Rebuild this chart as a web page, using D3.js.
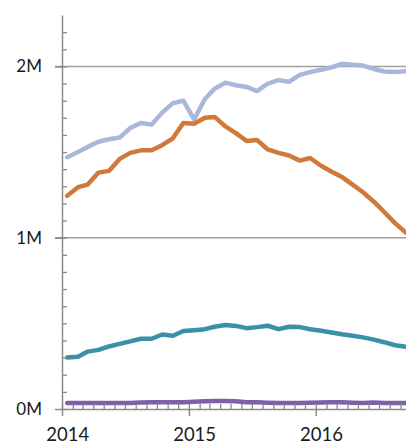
<!DOCTYPE html>
<html>
<head>
<meta charset="utf-8">
<script src="https://cdn.jsdelivr.net/npm/d3@7"></script>
<style>
  body { margin: 0; background: #fff; }
  svg { display: block; font-family: Lato, "Open Sans", sans-serif; }
</style>
</head>
<body>
<div id="chart"></div>
<script>
// monthly series, Jan 2014 - Sep 2016 (values in millions)
const months = ["2014-01","2014-02","2014-03","2014-04","2014-05","2014-06","2014-07","2014-08","2014-09","2014-10","2014-11","2014-12",
                "2015-01","2015-02","2015-03","2015-04","2015-05","2015-06","2015-07","2015-08","2015-09","2015-10","2015-11","2015-12",
                "2016-01","2016-02","2016-03","2016-04","2016-05","2016-06","2016-07","2016-08","2016-09"];

const blue = [1.47,1.50,1.53,1.56,1.575,1.585,1.64,1.67,1.66,1.73,1.785,1.80,
              1.69,1.81,1.87,1.905,1.89,1.88,1.856,1.90,1.92,1.91,1.95,1.967,
              1.98,1.995,2.015,2.01,2.005,1.985,1.97,1.967,1.972];
const orange = [1.245,1.295,1.31,1.38,1.39,1.46,1.495,1.51,1.51,1.54,1.58,1.67,
                1.665,1.70,1.705,1.65,1.61,1.565,1.57,1.515,1.495,1.48,1.45,1.465,
                1.42,1.385,1.355,1.31,1.265,1.21,1.15,1.085,1.03];
const teal = [0.30,0.305,0.335,0.345,0.365,0.38,0.395,0.41,0.41,0.435,0.428,0.455,
              0.46,0.466,0.48,0.49,0.485,0.472,0.478,0.486,0.466,0.48,0.478,0.466,
              0.457,0.447,0.436,0.428,0.418,0.405,0.39,0.372,0.363];
const purple = [0.035,0.035,0.035,0.035,0.035,0.035,0.035,0.038,0.04,0.04,0.04,0.04,
                0.042,0.045,0.047,0.047,0.045,0.04,0.04,0.037,0.035,0.035,0.035,0.037,
                0.038,0.04,0.04,0.037,0.035,0.038,0.035,0.035,0.035];

const seriesNames = ["blue", "orange", "teal", "purple"];
const seriesValues = [blue, orange, teal, purple];
const colors = ["#a7b8da", "#d0793a", "#3a90a6", "#7d60a8"];
const yTickValues = [0, 1, 2];
const yearTicks = ["2014", "2015", "2016"];

const width = 406, height = 444;
const margin = { top: 15, left: 62 };

const svg = d3.select("#chart").append("svg")
    .attr("width", width)
    .attr("height", height);

const parse = d3.timeParse("%Y-%m");
const dates = months.map(m => d3.timeDay.offset(parse(m), 15)); // mid month

// x: 127px per year starting at the axis
let x = d3.scaleTime()
    .domain([new Date(2014, 0, 1), new Date(2017, 0, 1)])
    .range([62, 62 + 3 * 127]);

let y = d3.scaleLinear()
    .domain([0, 2.3])
    .range([409, margin.top]);

// gridlines
svg.append("g")
    .selectAll("line")
    .data(yTickValues.filter(d => d > 0))
    .join("line")
    .attr("x1", 55).attr("x2", width)
    .attr("y1", d => y(d)).attr("y2", d => y(d))
    .attr("stroke", "#a0a0a0")
    .attr("stroke-width", 1.5);

// lines
const line = d3.line()
    .x((d, i) => x(dates[i]))
    .y(d => y(d));

svg.append("g")
    .selectAll("path")
    .data(seriesValues)
    .join("path")
    .attr("d", d => line(d))
    .attr("fill", "none")
    .attr("stroke", (d, i) => colors[i])
    .attr("stroke-width", 4.5)
    .attr("stroke-linejoin", "round")
    .attr("stroke-linecap", "round");

// y axis: minor ticks inward, major ticks outward
let yMinor = svg.append("g")
    .attr("transform", `translate(${margin.left},0)`)
    .call(d3.axisRight(y).tickValues(d3.range(0, 23).map(d => d / 10)).tickSize(5).tickFormat(""));
yMinor.select(".domain").remove();
yMinor.selectAll("line").attr("stroke", "#8a8a8a").attr("stroke-width", 1.3);

let yAxis = svg.append("g")
    .attr("transform", `translate(${margin.left},0)`)
    .call(d3.axisLeft(y).tickValues(yTickValues).tickSize(7).tickSizeOuter(0).tickPadding(13)
        .tickFormat(d => d + "M"));
yAxis.select(".domain").attr("stroke", "#8a8a8a").attr("stroke-width", 1.5);
yAxis.selectAll("line").attr("stroke", "#8a8a8a").attr("stroke-width", 1.5);
yAxis.selectAll("text")
    .style("font-size", "17px")
    .style("font-family", "Lato, sans-serif")
    .attr("fill", "#1a1a1a");

// x axis: monthly minor ticks up, yearly ticks down
let xMinor = svg.append("g")
    .attr("transform", `translate(0,409)`)
    .call(d3.axisTop(x).ticks(d3.timeMonth.every(1)).tickSize(5).tickFormat(""));
xMinor.select(".domain").remove();
xMinor.selectAll("line").attr("stroke", "#8a8a8a").attr("stroke-width", 1.3);

const labelShift = x(new Date(2014, 0, 16)) - x(new Date(2014, 0, 1));
let xAxis = svg.append("g")
    .attr("transform", `translate(0,409)`)
    .call(d3.axisBottom(x).tickValues(yearTicks.map(d => new Date(+d, 0, 1)))
        .tickSize(7).tickSizeOuter(0).tickPadding(12)
        .tickFormat(d3.timeFormat("%Y")));
xAxis.select(".domain").attr("stroke", "#8a8a8a").attr("stroke-width", 1.5);
xAxis.selectAll("line").attr("stroke", "#8a8a8a").attr("stroke-width", 1.5);
xAxis.selectAll("text")
    .attr("x", labelShift)
    .style("font-size", "18.5px")
    .style("font-family", "Lato, sans-serif")
    .attr("fill", "#1a1a1a");
</script>
</body>
</html>
